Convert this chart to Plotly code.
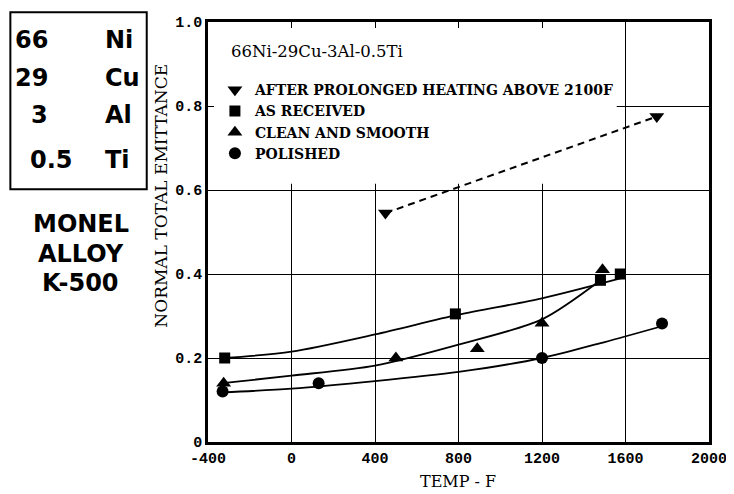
import plotly.graph_objects as go

# ---- data ----
heat_T = [450, 1750]
heat_E = [0.545, 0.775]
recv_T = [-320, 785, 1480, 1575]
recv_E = [0.200, 0.305, 0.385, 0.400]
clean_T = [-325, 500, 890, 1200, 1490]
clean_E = [0.140, 0.200, 0.222, 0.283, 0.410]
pol_T = [-330, 130, 1200, 1775]
pol_E = [0.120, 0.140, 0.200, 0.282]

# faired curves as drawn in the picture
recv_curve_T = [-320, 0, 400, 800, 1200, 1580]
recv_curve_E = [0.200, 0.215, 0.256, 0.303, 0.342, 0.390]
clean_curve_T = [-330, 0, 400, 800, 1200, 1480]
clean_curve_E = [0.140, 0.158, 0.182, 0.232, 0.292, 0.385]
pol_curve_T = [-330, 0, 400, 800, 1200, 1500, 1770]
pol_curve_E = [0.118, 0.127, 0.145, 0.167, 0.200, 0.238, 0.275]

x_ticks = [-400, 0, 400, 800, 1200, 1600, 2000]
x_tick_text = ["-400", "0", "400", "800", "1200", "1600", "2000"]
y_ticks = [0, 0.2, 0.4, 0.6, 0.8, 1.0]
y_tick_text = ["0", "0.2", "0.4", "0.6", "0.8", "1.0"]

labels = ["AFTER PROLONGED HEATING ABOVE 2100F", "AS RECEIVED",
          "CLEAN AND SMOOTH", "POLISHED"]
alloy_num = ["66", "29", "3", "0.5"]
alloy_el = ["Ni", "Cu", "Al", "Ti"]
alloy_name = ["MONEL", "ALLOY", "K-500"]

SERIF = "DejaVu Serif"
SANS = "DejaVu Sans"
MONO = "Liberation Mono"

fig = go.Figure()

line_style = dict(color="black", width=1.8, shape="spline", smoothing=0.8)
fig.add_trace(go.Scatter(x=heat_T, y=heat_E, mode="lines", showlegend=False,
                         line=dict(color="black", width=2, dash="7px,5px")))
for cx, cy in [(recv_curve_T, recv_curve_E), (clean_curve_T, clean_curve_E),
               (pol_curve_T, pol_curve_E)]:
    fig.add_trace(go.Scatter(x=cx, y=cy, mode="lines", showlegend=False,
                             line=line_style))

for name, xs, ys, sym, sz in [
    (labels[0], heat_T, heat_E, "triangle-down", 13),
    (labels[1], recv_T, recv_E, "square", 11),
    (labels[2], clean_T, clean_E, "triangle-up", 13),
    (labels[3], pol_T, pol_E, "circle", 12),
]:
    fig.add_trace(go.Scatter(x=xs, y=ys, mode="markers", name=name,
                             marker=dict(symbol=sym, size=sz, color="black",
                                         line=dict(width=0))))

# blank panel behind the legend (covers grid)
fig.add_shape(type="rect", x0=-400, x1=1558, y0=0.615, y1=1.0,
              xref="x", yref="y", fillcolor="white", line_width=0,
              layer="between")

# page body has an 8px margin; figure sized so it fits the 734x494 window
OFF = 8
W, H = 734 - OFF, 494 - OFF
PL, PR, PT, PB = 208, 715, 15, 442          # plot area on screen
L, R, T, B = PL - OFF, W - (PR - OFF), PT - OFF, H - (PB - OFF)
pw, ph = PR - PL, PB - PT


def px(xs):
    return (xs - PL) / pw


def py(ys):
    return (PB - ys) / ph


ann = []
ann.append(dict(text="66Ni-29Cu-3Al-0.5Ti", x=px(229), y=py(45), xref="paper",
                yref="paper", xanchor="left", yanchor="middle", showarrow=False,
                font=dict(family=SERIF, size=16.5, color="black")))
ann.append(dict(text="NORMAL TOTAL EMITTANCE", x=px(161), y=py(192),
                xref="paper", yref="paper", xanchor="center", yanchor="middle",
                textangle=-90, showarrow=False,
                font=dict(family=SERIF, size=17, color="black")))
ann.append(dict(text="TEMP - F", x=px(461), y=py(482),
                xref="paper", yref="paper", xanchor="center", yanchor="middle",
                showarrow=False,
                font=dict(family=SERIF, size=16, color="black")))

# alloy composition box
fig.add_shape(type="rect", xref="paper", yref="paper", x0=px(8), x1=px(146),
              y0=py(185), y1=py(5), line=dict(color="black", width=2),
              fillcolor="rgba(0,0,0,0)")
bold = dict(family=SANS, size=24, color="black", weight="bold")
num_y = [33, 72, 110, 155]
for n, e, yy in zip(alloy_num, alloy_el, num_y):
    if n == "0.5":
        ann.append(dict(text=n, x=px(26), y=py(yy), xanchor="left"))
    else:
        ann.append(dict(text=n, x=px(48), y=py(yy), xanchor="right"))
    ann[-1].update(xref="paper", yref="paper", yanchor="middle",
                   showarrow=False, font=bold)
    ann.append(dict(text=e, x=px(102), y=py(yy), xanchor="left",
                    xref="paper", yref="paper", yanchor="middle",
                    showarrow=False, font=bold))
for nm, yy in zip(alloy_name, [220, 251, 280]):
    ann.append(dict(text=nm, x=px(79), y=py(yy), xref="paper", yref="paper",
                    xanchor="center", yanchor="middle", showarrow=False,
                    font=bold))

fig.update_layout(
    width=W, height=H,
    margin=dict(l=L, r=R, t=T, b=B),
    paper_bgcolor="white", plot_bgcolor="white",
    annotations=ann,
    legend=dict(x=px(215), y=py(68), xanchor="left", yanchor="top",
                bgcolor="rgba(0,0,0,0)", borderwidth=0,
                font=dict(family=SERIF, size=14, color="black", weight="bold"),
                itemwidth=30, tracegroupgap=0),
    xaxis=dict(range=[-400, 2000], tickvals=x_ticks, ticktext=x_tick_text,
               showgrid=True, gridcolor="black", gridwidth=1.2,
               zeroline=False, showline=True, linecolor="black", linewidth=2.5,
               mirror="ticks", ticks="inside", ticklen=6, tickwidth=1.2,
               tickcolor="black", ticklabeloverflow="allow",
               tickfont=dict(family=MONO, size=15, color="black", weight="bold")),
    yaxis=dict(range=[0, 1.0], tickvals=y_ticks, ticktext=y_tick_text,
               showgrid=True, gridcolor="black", gridwidth=1.2,
               zeroline=False, showline=True, linecolor="black", linewidth=2.5,
               mirror="ticks", ticks="inside", ticklen=6, tickwidth=1.2,
               tickcolor="black", ticklabeloverflow="allow",
               tickfont=dict(family=MONO, size=15, color="black", weight="bold")),
)

fig.write_html("out.html")
